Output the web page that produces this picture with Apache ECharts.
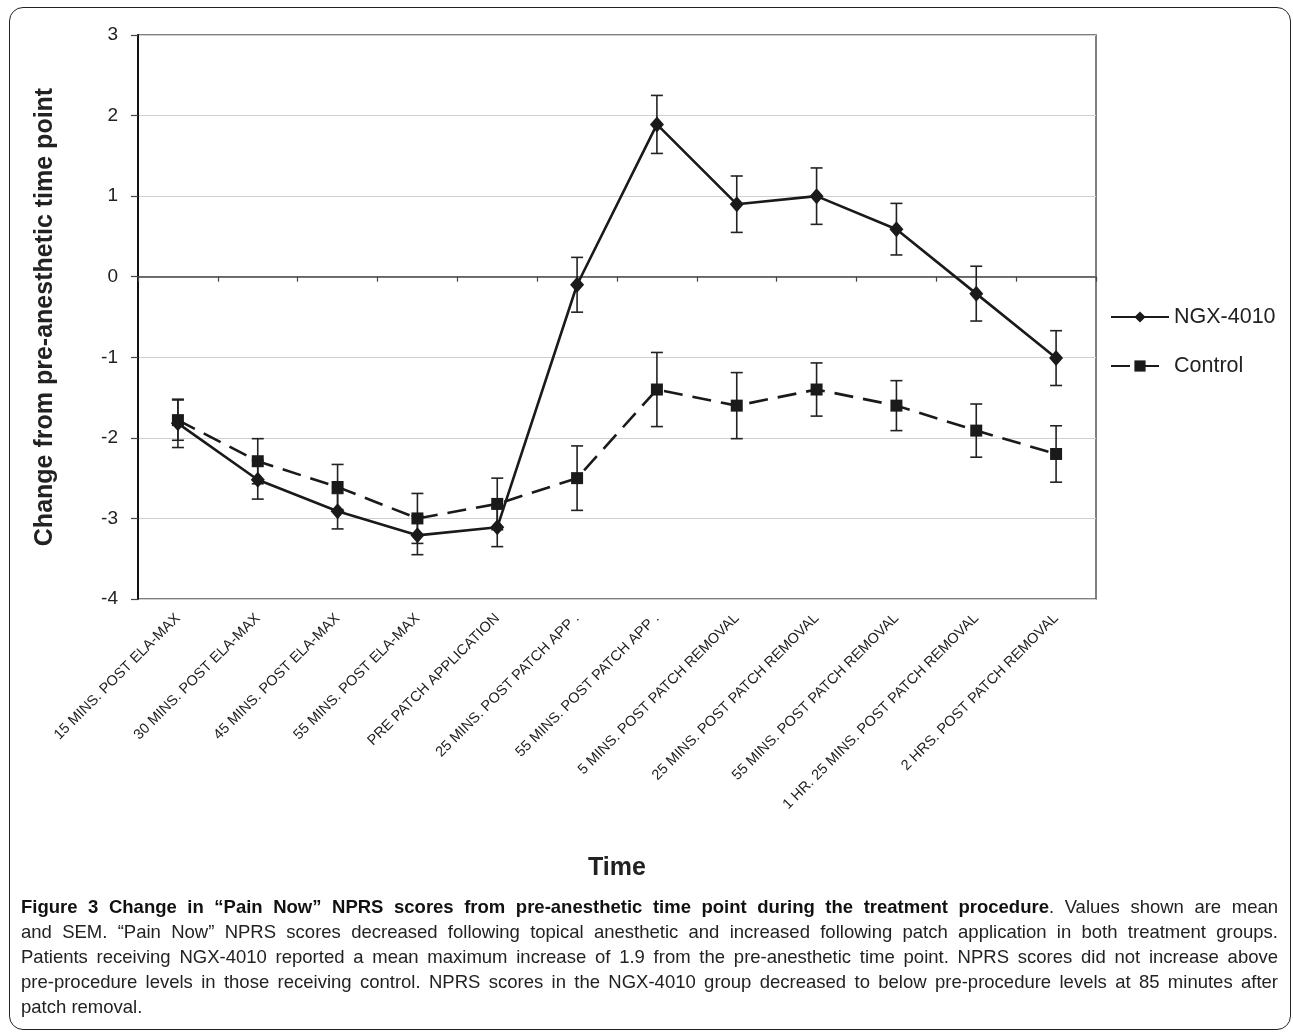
<!DOCTYPE html>
<html>
<head>
<meta charset="utf-8">
<script src="https://cdn.jsdelivr.net/npm/echarts@6/dist/echarts.min.js"></script>
<style>
  html, body { margin: 0; padding: 0; background: #fff; }
  #wrap { position: relative; width: 1293px; height: 1034px; overflow: hidden; }
  #chart { position: absolute; left: 0; top: 0; width: 1293px; height: 1034px; }
  #frame { position: absolute; left: 9px; top: 7px; width: 1280px; height: 1021px;
           border: 1.5px solid #222; border-radius: 14px; pointer-events: none; }
  #caption { position: absolute; left: 21px; top: 894px; width: 1257px;
             font-family: 'Liberation Sans', Arial, sans-serif;
             font-size: 18.5px; color: #222; line-height: 25px; }
  #caption .l { text-align: justify; text-align-last: justify; white-space: nowrap; }
  #caption .l.last { text-align-last: left; }
  #caption b { font-weight: bold; color: #111; }
</style>
</head>
<body>
<div id="wrap">
  <div id="chart"></div>
  <div id="frame"></div>
  <div id="caption">
    <div class="l"><b>Figure 3 Change in “Pain Now” NPRS scores from pre-anesthetic time point during the treatment procedure</b>. Values shown are mean</div>
    <div class="l">and SEM. “Pain Now” NPRS scores decreased following topical anesthetic and increased following patch application in both treatment groups.</div>
    <div class="l">Patients receiving NGX-4010 reported a mean maximum increase of 1.9 from the pre-anesthetic time point. NPRS scores did not increase above</div>
    <div class="l">pre-procedure levels in those receiving control. NPRS scores in the NGX-4010 group decreased to below pre-procedure levels at 85 minutes after</div>
    <div class="l last">patch removal.</div>
  </div>
</div>
<script>
const categories = [
  '15 MINS. POST ELA-MAX', '30 MINS. POST ELA-MAX', '45 MINS. POST ELA-MAX', '55 MINS. POST ELA-MAX',
  'PRE PATCH APPLICATION', '25 MINS. POST PATCH APP .', '55 MINS. POST PATCH APP .',
  '5 MINS. POST PATCH REMOVAL', '25 MINS. POST PATCH REMOVAL', '55 MINS. POST PATCH REMOVAL',
  '1 HR. 25 MINS. POST PATCH REMOVAL', '2 HRS. POST PATCH REMOVAL'
];
const ngxMean = [-1.82, -2.52, -2.91, -3.21, -3.11, -0.10, 1.89, 0.90, 1.00, 0.59, -0.21, -1.01];
const ngxSem  = [0.30, 0.24, 0.22, 0.24, 0.24, 0.34, 0.36, 0.35, 0.35, 0.32, 0.34, 0.34];
const ctrlMean = [-1.78, -2.29, -2.61, -3.00, -2.82, -2.50, -1.40, -1.60, -1.40, -1.60, -1.91, -2.20];
const ctrlSem  = [0.25, 0.28, 0.28, 0.31, 0.32, 0.40, 0.46, 0.41, 0.33, 0.31, 0.33, 0.35];
const yTicks = { min: -4, max: 3, interval: 1 };

const chart = echarts.init(document.getElementById('chart'), null, { renderer: 'canvas' });

function errData(mean, sem) {
  return mean.map((m, i) => [i, m - sem[i], m + sem[i]]);
}
function renderErr(params, api) {
  const x = api.value(0);
  const lo = api.coord([x, api.value(1)]);
  const hi = api.coord([x, api.value(2)]);
  const w = 6;
  const st = { stroke: '#222', lineWidth: 1.6 };
  return {
    type: 'group',
    children: [
      { type: 'line', shape: { x1: lo[0], y1: lo[1], x2: hi[0], y2: hi[1] }, style: st },
      { type: 'line', shape: { x1: lo[0] - w, y1: lo[1], x2: lo[0] + w, y2: lo[1] }, style: st },
      { type: 'line', shape: { x1: hi[0] - w, y1: hi[1], x2: hi[0] + w, y2: hi[1] }, style: st }
    ]
  };
}

const font = "'Liberation Sans', Arial, sans-serif";

chart.setOption({
  animation: false,
  textStyle: { fontFamily: font },
  grid: { left: 138, right: 197, top: 35, bottom: 435, show: true, borderColor: '#555', borderWidth: 1.5, backgroundColor: 'transparent' },
  legend: {
    orient: 'vertical', left: 1105, top: 301, itemGap: 27,
    itemWidth: 58, itemHeight: 14,
    textStyle: { fontSize: 21.5, color: '#222', fontFamily: font },
    data: ['NGX-4010', 'Control']
  },
  xAxis: [
    {
      type: 'category', data: categories, position: 'bottom', boundaryGap: true,
      axisLine: { show: false, onZero: false }, axisTick: { show: false },
      axisLabel: {
        rotate: 45, fontSize: 14.5, color: '#222', margin: 17, interval: 0, fontFamily: font
      },
      name: 'Time', nameLocation: 'middle', nameGap: 257,
      nameTextStyle: { fontSize: 25, fontWeight: 'bold', color: '#222', fontFamily: font }
    },
    {
      type: 'category', data: categories, position: 'bottom', boundaryGap: true,
      axisLine: { show: true, onZero: true, onZeroAxisIndex: 0, lineStyle: { color: '#444', width: 1.5 } },
      axisTick: { show: true, inside: false, interval: 0, length: 5, lineStyle: { color: '#444', width: 1.2 } },
      axisLabel: { show: false }
    }
  ],
  yAxis: {
    type: 'value', min: yTicks.min, max: yTicks.max, interval: yTicks.interval,
    axisLine: { show: true, onZero: false, lineStyle: { color: '#111', width: 2 } },
    axisTick: { show: true, length: 7, lineStyle: { color: '#444', width: 1.2 } },
    axisLabel: { fontSize: 19, color: '#222', margin: 20, fontFamily: font },
    splitLine: { show: true, lineStyle: { color: '#d0d0d0', width: 1.2 } },
    name: 'Change from pre-anesthetic time point', nameLocation: 'middle', nameGap: 80,
    nameTextStyle: { fontSize: 25, fontWeight: 'bold', color: '#222', fontFamily: font }
  },
  series: [
    {
      type: 'custom', name: 'ngxErr', xAxisIndex: 0, renderItem: renderErr,
      data: errData(ngxMean, ngxSem), encode: { x: 0, y: [1, 2] }, z: 2, silent: true
    },
    {
      type: 'custom', name: 'ctrlErr', xAxisIndex: 0, renderItem: renderErr,
      data: errData(ctrlMean, ctrlSem), encode: { x: 0, y: [1, 2] }, z: 2, silent: true
    },
    {
      type: 'line', name: 'NGX-4010', xAxisIndex: 0, data: ngxMean,
      symbol: 'diamond', symbolSize: [14, 16],
      lineStyle: { color: '#1a1a1a', width: 2.6 },
      itemStyle: { color: '#1a1a1a' }, z: 4
    },
    {
      type: 'line', name: 'Control', xAxisIndex: 0, data: ctrlMean,
      symbol: 'rect', symbolSize: 12,
      lineStyle: { color: '#1a1a1a', width: 2.6, type: [19, 10] },
      itemStyle: { color: '#1a1a1a' }, z: 3
    }
  ]
});
</script>
</body>
</html>
